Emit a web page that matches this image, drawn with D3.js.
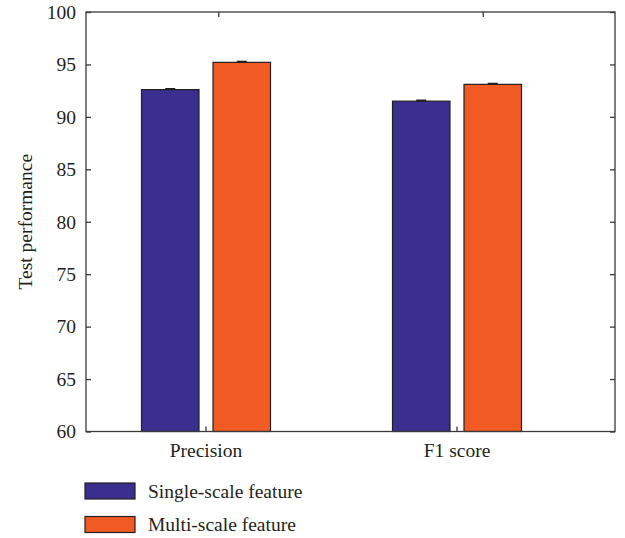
<!DOCTYPE html>
<html>
<head>
<meta charset="utf-8">
<script src="https://cdn.jsdelivr.net/npm/d3@7"></script>
<style>
  html, body { margin: 0; padding: 0; background: #fff; }
  svg text { font-family: "Liberation Serif", "Times New Roman", serif; fill: #231f20; }
</style>
</head>
<body>
<svg id="chart" width="625" height="538"></svg>
<script>
// ---- data ----
const categories = ["Precision", "F1 score"];
const series = ["Single-scale feature", "Multi-scale feature"];
const singleScale = [92.6, 91.5];
const multiScale = [95.2, 93.1];
const singleErr = [0.06, 0.06];
const multiErr = [0.06, 0.06];
const yTicks = [60, 65, 70, 75, 80, 85, 90, 95, 100];
const colors = ["#3a2f8f", "#f15a22"];

const values = [singleScale, multiScale];
const errors = [singleErr, multiErr];

// ---- layout ----
const svg = d3.select("#chart");
const plot = { left: 86, right: 615, top: 12, bottom: 431.5 };
const fontSize = "19.5px";
const axisColor = "#3a3a3a";

const y = d3.scaleLinear().domain([60, 100]).range([plot.bottom, plot.top]);
// category positions (bottom axis / bars)
const x = d3.scaleBand().domain(categories).range([80.5, 582.5]).padding(0);
const xs = d3.scaleBand().domain(series).range([-64.5, 64.5]).paddingInner(0.196);
// frame top ticks (linear, like xlim [0.5 2.5])
const xTop = d3.scaleLinear().domain([0.5, 2.5]).range([plot.left, plot.right]);

const cx = c => x(c) + x.bandwidth() / 2;

// bars
series.forEach((s, si) => {
  svg.append("g").selectAll("rect")
    .data(categories.map((c, ci) => ({ c, v: values[si][ci], e: errors[si][ci] })))
    .join("rect")
    .attr("x", d => cx(d.c) + xs(s))
    .attr("width", xs.bandwidth())
    .attr("y", d => y(d.v))
    .attr("height", d => y(60) - y(d.v))
    .attr("fill", colors[si])
    .attr("stroke", "#231f20")
    .attr("stroke-width", 1.2);

  // error bars
  const eg = svg.append("g").attr("stroke", "#231f20").attr("stroke-width", 2);
  categories.forEach((c, ci) => {
    const mx = cx(c) + xs(s) + xs.bandwidth() / 2;
    const v = values[si][ci], e = errors[si][ci];
    eg.append("line").attr("x1", mx).attr("x2", mx).attr("y1", y(v + e)).attr("y2", y(v - e));
    eg.append("line").attr("x1", mx - 5).attr("x2", mx + 5).attr("y1", y(v + e)).attr("y2", y(v + e));
  });
});

// frame
svg.append("rect")
  .attr("x", plot.left).attr("y", plot.top)
  .attr("width", plot.right - plot.left).attr("height", plot.bottom - plot.top)
  .attr("fill", "none").attr("stroke", axisColor).attr("stroke-width", 1.3);

// left axis
const yAxisL = d3.axisLeft(y).tickValues(yTicks).tickSizeInner(-5).tickSizeOuter(0).tickPadding(10);
const gL = svg.append("g").attr("transform", `translate(${plot.left},0)`).call(yAxisL);
gL.select(".domain").remove();
gL.selectAll("line").attr("stroke", axisColor).attr("stroke-width", 1.3);
gL.selectAll("text").style("font-size", fontSize).style("font-family", "Liberation Serif, serif").attr("fill", "#231f20");

// right axis ticks
const yAxisR = d3.axisRight(y).tickValues(yTicks).tickSizeInner(-5).tickSizeOuter(0).tickFormat("");
const gR = svg.append("g").attr("transform", `translate(${plot.right},0)`).call(yAxisR);
gR.select(".domain").remove();
gR.selectAll("line").attr("stroke", axisColor).attr("stroke-width", 1.3);

// bottom axis
const xAxisB = d3.axisBottom(x).tickSizeInner(-5).tickSizeOuter(0).tickPadding(12);
const gB = svg.append("g").attr("transform", `translate(0,${plot.bottom})`).call(xAxisB);
gB.select(".domain").remove();
gB.selectAll("line").attr("stroke", axisColor).attr("stroke-width", 1.3);
gB.selectAll("text").style("font-size", fontSize).style("font-family", "Liberation Serif, serif").attr("fill", "#231f20");

// top axis ticks
const xAxisT = d3.axisTop(xTop).tickValues([1, 2]).tickSizeInner(-5).tickSizeOuter(0).tickFormat("");
const gT = svg.append("g").attr("transform", `translate(0,${plot.top})`).call(xAxisT);
gT.select(".domain").remove();
gT.selectAll("line").attr("stroke", axisColor).attr("stroke-width", 1.3);

// y label
svg.append("text")
  .attr("transform", `translate(32,${(plot.top + plot.bottom) / 2}) rotate(-90)`)
  .attr("text-anchor", "middle")
  .style("font-size", fontSize)
  .text("Test performance");

// legend
const legend = svg.append("g").attr("transform", "translate(85,483)");
series.forEach((s, i) => {
  const g = legend.append("g").attr("transform", `translate(0,${i * 33.5})`);
  g.append("rect").attr("width", 50).attr("height", 16)
    .attr("fill", colors[i]).attr("stroke", "#231f20").attr("stroke-width", 1.2);
  g.append("text").attr("x", 63).attr("y", 14.5)
    .style("font-size", fontSize).text(s);
});
</script>
</body>
</html>
